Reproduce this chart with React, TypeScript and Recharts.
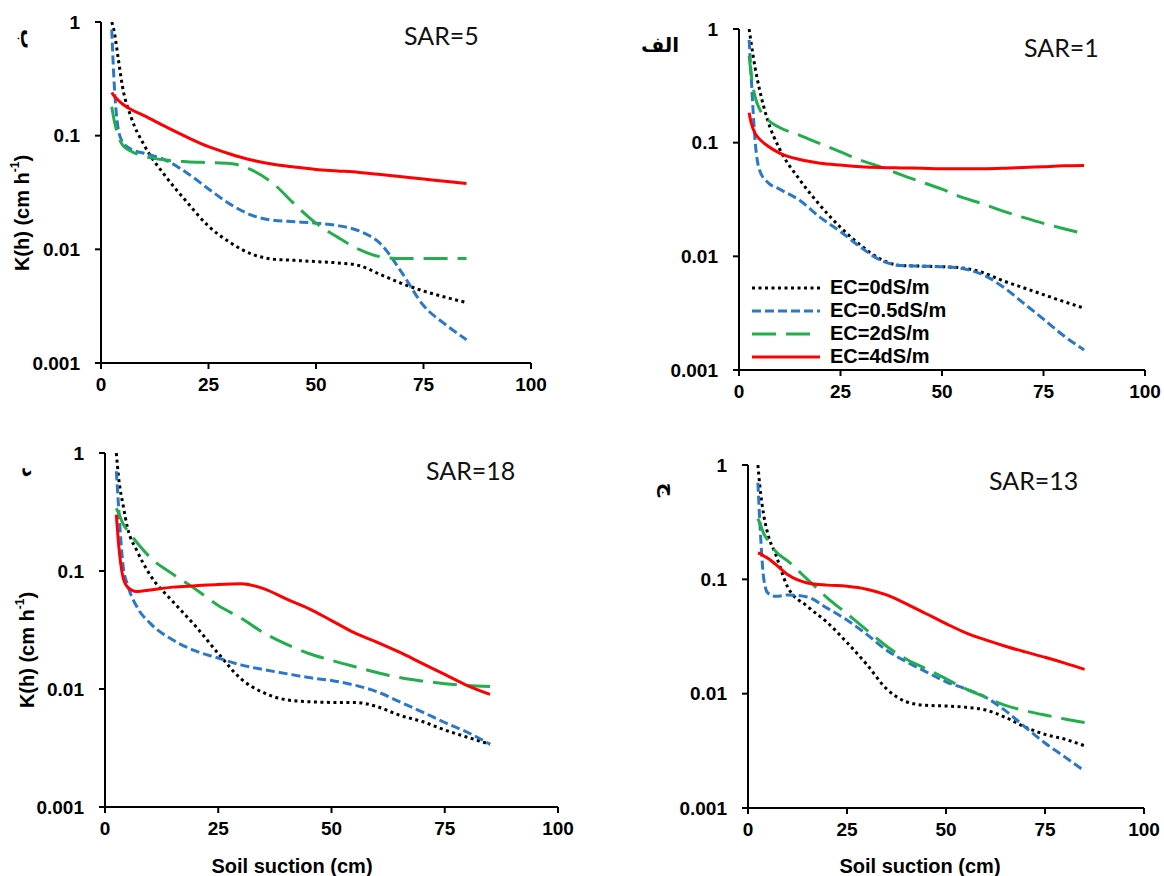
import { LineChart, Line, XAxis, YAxis, Legend } from 'recharts';

// soil suction (cm), shared by every curve
const suction = [2.5, 3, 4, 5, 7, 10, 15, 20, 25, 30, 35, 40, 45, 50, 55, 60, 65, 70, 75, 80, 85];

// K(h) (cm h-1)
const sar1Ec0 = [1.0, 0.75, 0.45, 0.3, 0.16, 0.088, 0.047, 0.028, 0.018, 0.0125, 0.0094, 0.0083, 0.0082, 0.0081, 0.0079, 0.0072, 0.0061, 0.0053, 0.0046, 0.004, 0.0035];
const sar1Ec05 = [0.8, 0.38, 0.1, 0.058, 0.045, 0.039, 0.031, 0.022, 0.0165, 0.012, 0.0092, 0.0083, 0.0082, 0.0081, 0.0078, 0.0069, 0.0054, 0.0039, 0.0028, 0.002, 0.0015];
const sar1Ec2 = [0.58, 0.4, 0.25, 0.2, 0.16, 0.136, 0.116, 0.098, 0.083, 0.07, 0.061, 0.052, 0.045, 0.039, 0.033, 0.029, 0.025, 0.022, 0.0195, 0.0175, 0.0158];
const sar1Ec4 = [0.183, 0.15, 0.12, 0.108, 0.094, 0.081, 0.071, 0.066, 0.0635, 0.0615, 0.0605, 0.06, 0.0595, 0.059, 0.059, 0.059, 0.0595, 0.0605, 0.0615, 0.0625, 0.063];

const sar5Ec0 = [1.0, 0.85, 0.48, 0.27, 0.145, 0.083, 0.044, 0.026, 0.016, 0.0115, 0.0091, 0.0082, 0.008, 0.0078, 0.0076, 0.0072, 0.006, 0.005, 0.0043, 0.0038, 0.0034];
const sar5Ec05 = [0.86, 0.32, 0.115, 0.088, 0.076, 0.07, 0.061, 0.047, 0.034, 0.025, 0.02, 0.018, 0.0175, 0.017, 0.0162, 0.0145, 0.0112, 0.0062, 0.0032, 0.0022, 0.0016];
const sar5Ec2 = [0.18, 0.14, 0.1, 0.083, 0.073, 0.066, 0.061, 0.059, 0.058, 0.057, 0.05, 0.038, 0.025, 0.017, 0.0128, 0.01, 0.0086, 0.0083, 0.0083, 0.0083, 0.0083];
const sar5Ec4 = [0.24, 0.225, 0.205, 0.19, 0.17, 0.15, 0.12, 0.097, 0.08, 0.069, 0.061, 0.056, 0.053, 0.0505, 0.049, 0.0475, 0.0455, 0.0435, 0.0415, 0.0398, 0.038];

const sar13Ec0 = [1.0, 0.65, 0.36, 0.25, 0.165, 0.086, 0.058, 0.042, 0.028, 0.018, 0.011, 0.0085, 0.0079, 0.0078, 0.0076, 0.0072, 0.0062, 0.0051, 0.0044, 0.004, 0.0035];
const sar13Ec05 = [0.7, 0.31, 0.1, 0.076, 0.071, 0.073, 0.07, 0.056, 0.044, 0.033, 0.024, 0.019, 0.0155, 0.0127, 0.011, 0.0093, 0.0071, 0.0051, 0.0037, 0.0028, 0.0021];
const sar13Ec2 = [0.34, 0.31, 0.25, 0.22, 0.175, 0.145, 0.1, 0.069, 0.05, 0.036, 0.026, 0.02, 0.0165, 0.0135, 0.011, 0.0093, 0.0079, 0.0071, 0.0065, 0.006, 0.0056];
const sar13Ec4 = [0.17, 0.168, 0.16, 0.153, 0.135, 0.11, 0.093, 0.089, 0.087, 0.082, 0.073, 0.061, 0.05, 0.041, 0.034, 0.0295, 0.026, 0.0232, 0.0208, 0.0185, 0.0163];

const sar18Ec0 = [1.0, 0.62, 0.36, 0.23, 0.15, 0.092, 0.055, 0.034, 0.02, 0.0122, 0.0093, 0.0081, 0.0078, 0.0077, 0.0077, 0.0071, 0.006, 0.0053, 0.0045, 0.0039, 0.0034];
const sar18Ec05 = [0.7, 0.35, 0.11, 0.076, 0.05, 0.036, 0.026, 0.021, 0.0183, 0.016, 0.0146, 0.0135, 0.0125, 0.0118, 0.0108, 0.0095, 0.0078, 0.0064, 0.0052, 0.0043, 0.0034];
const sar18Ec2 = [0.34, 0.31, 0.25, 0.22, 0.175, 0.13, 0.094, 0.07, 0.051, 0.04, 0.03, 0.024, 0.02, 0.0175, 0.0155, 0.0138, 0.0125, 0.0117, 0.0111, 0.0107, 0.0105];
const sar18Ec4 = [0.3, 0.17, 0.088, 0.073, 0.067, 0.069, 0.073, 0.075, 0.077, 0.078, 0.071, 0.058, 0.048, 0.038, 0.03, 0.025, 0.0205, 0.0165, 0.0133, 0.0107, 0.009];

const xTicks = [0, 25, 50, 75, 100];
const yTicks = [0.001, 0.01, 0.1, 1];

const SERIES = [
  { key: 'ec0', name: 'EC=0dS/m', color: '#000000', dash: '3 3.5' },
  { key: 'ec05', name: 'EC=0.5dS/m', color: '#2a78c9', dash: '9 4' },
  { key: 'ec2', name: 'EC=2dS/m', color: '#22ae4c', dash: '24 10' },
  { key: 'ec4', name: 'EC=4dS/m', color: '#ff0000', dash: undefined },
];

const ARIAL = '"Liberation Sans", Arial, sans-serif';

function rows(ec0: number[], ec05: number[], ec2: number[], ec4: number[]) {
  return suction.map((x, i) => ({ x, ec0: ec0[i], ec05: ec05[i], ec2: ec2[i], ec4: ec4[i] }));
}

// plot-area boxes in page pixels
const PANELS = [
  { id: 'sar5', data: rows(sar5Ec0, sar5Ec05, sar5Ec2, sar5Ec4), box: { left: 101, right: 531, top: 22, bottom: 363 } },
  { id: 'sar1', data: rows(sar1Ec0, sar1Ec05, sar1Ec2, sar1Ec4), box: { left: 739, right: 1145, top: 29, bottom: 370 }, legend: true },
  { id: 'sar18', data: rows(sar18Ec0, sar18Ec05, sar18Ec2, sar18Ec4), box: { left: 105, right: 558, top: 453, bottom: 807 } },
  { id: 'sar13', data: rows(sar13Ec0, sar13Ec05, sar13Ec2, sar13Ec4), box: { left: 748, right: 1144, top: 465, bottom: 808 } },
];

const L = 100, T = 20, R = 30, B = 40;

const tickStyle = { fill: '#000', fontSize: 19, fontWeight: 700, fontFamily: ARIAL };
const axisStyle = { stroke: '#000', strokeWidth: 2 };

function LegendBox() {
  return (
    <div style={{ fontFamily: ARIAL, fontWeight: 700, fontSize: 20, color: '#000' }}>
      {SERIES.map(s => (
        <div key={s.key} style={{ display: 'flex', alignItems: 'center', height: 23, lineHeight: '23px' }}>
          <svg width={70} height={10} style={{ display: 'block' }}>
            <line x1={0} y1={5} x2={68} y2={5} stroke={s.color} strokeWidth={3} strokeDasharray={s.dash} />
          </svg>
          <span style={{ marginLeft: 8 }}>{s.name}</span>
        </div>
      ))}
    </div>
  );
}

function Panel({ data, box, legend }: any) {
  const w = box.right - box.left + L + R;
  const h = box.bottom - box.top + T + B;
  const left = box.left - L;
  const top = box.top - T;
  return (
    <div style={{ position: 'absolute', left, top }}>
      <LineChart width={w} height={h} data={data} margin={{ top: T, right: R, left: 0, bottom: 0 }}>
        <XAxis
          type="number"
          dataKey="x"
          domain={[0, 100]}
          ticks={xTicks}
          height={B}
          tick={tickStyle}
          tickSize={6}
          tickMargin={9}
          axisLine={axisStyle}
          tickLine={axisStyle}
        />
        <YAxis
          type="number"
          scale="log"
          domain={[0.001, 1]}
          ticks={yTicks}
          allowDataOverflow
          width={L}
          tick={tickStyle}
          tickSize={6}
          tickMargin={15}
          axisLine={axisStyle}
          tickLine={axisStyle}
        />
        {legend && (
          <Legend
            layout="vertical"
            align="center"
            verticalAlign="middle"
            content={() => <LegendBox />}
            wrapperStyle={{ left: 752 - left, top: 276 - top, width: 'auto' }}
          />
        )}
        {SERIES.map(s => (
          <Line
            key={s.key}
            type="monotone"
            dataKey={s.key}
            name={s.name}
            stroke={s.color}
            strokeWidth={3}
            strokeDasharray={s.dash}
            dot={false}
            activeDot={false}
            isAnimationActive={false}
          />
        ))}
      </LineChart>
    </div>
  );
}

function YTitle({ x, y }: { x: number; y: number }) {
  return (
    <text transform={`translate(${x},${y}) rotate(-90)`} textAnchor="middle" dominantBaseline="central"
      fontFamily={ARIAL} fontWeight={700} fontSize={20} fill="#000">
      K(h) (cm h<tspan fontSize={12} dy={-7}>-1</tspan><tspan dy={7}>)</tspan>
    </text>
  );
}

function Letter({ x, y, ch, rotate }: { x: number; y: number; ch: string; rotate: number }) {
  return (
    <text transform={`translate(${x},${y}) rotate(${rotate})`} textAnchor="middle" dominantBaseline="central"
      fontFamily='"DejaVu Sans", sans-serif' fontWeight={700} fontSize={20} fill="#000">
      {ch}
    </text>
  );
}

const sarStyle = { fontFamily: 'Lato, "Open Sans", sans-serif', fontSize: 25, fill: '#111' };
const xTitleStyle = { fontFamily: ARIAL, fontWeight: 700, fontSize: 20, fill: '#000' };

export default function App() {
  return (
    <div style={{ position: 'absolute', left: 0, top: 0, width: 1164, height: 876, background: '#fff', overflow: 'hidden' }}>
      {PANELS.map(p => (
        <Panel key={p.id} data={p.data} box={p.box} legend={p.legend} />
      ))}
      <svg width={1164} height={876} style={{ position: 'absolute', left: 0, top: 0, pointerEvents: 'none' }}>
        <text x={404} y={45} {...sarStyle}>SAR=5</text>
        <text x={1024} y={57} {...sarStyle}>SAR=1</text>
        <text x={426} y={480} {...sarStyle}>SAR=18</text>
        <text x={989} y={490} {...sarStyle}>SAR=13</text>

        <Letter x={28} y={39} ch="ب" rotate={90} />
        <Letter x={660} y={45} ch="الف" rotate={0} />
        <Letter x={30} y={472} ch="د" rotate={90} />
        <Letter x={669} y={490} ch="ج" rotate={90} />

        <YTitle x={22} y={213} />
        <YTitle x={27} y={650} />

        <text x={292} y={873} textAnchor="middle" {...xTitleStyle}>Soil suction (cm)</text>
        <text x={920} y={873} textAnchor="middle" {...xTitleStyle}>Soil suction (cm)</text>
      </svg>
    </div>
  );
}
